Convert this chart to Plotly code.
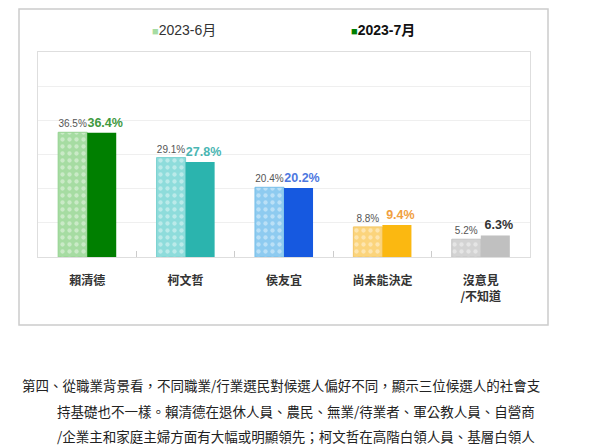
import plotly.graph_objects as go

categories = ["賴清德", "柯文哲", "侯友宜", "尚未能決定", "沒意見<br>/不知道"]
june_values = [36.5, 29.1, 20.4, 8.8, 5.2]
july_values = [36.4, 27.8, 20.2, 9.4, 6.3]
series_names = ["2023-6月", "2023-7月"]

june_colors = ["#a6dca2", "#8edcdb", "#8ecbf0", "#fbd47c", "#d3d3d3"]
june_edges = ["#94d28f", "#7ad2d0", "#78bfe8", "#f3c666", "#c4c4c4"]
july_colors = ["#007f00", "#2bb4ae", "#1659e0", "#fbb811", "#c0c0c0"]
july_label_colors = ["#3f9a3f", "#4ab6b3", "#4d78df", "#f0a040", "#333333"]

paragraph = [
    "第四、從職業背景看，不同職業/行業選民對候選人偏好不同，顯示三位候選人的社會支",
    "持基礎也不一樣。賴清德在退休人員、農民、無業/待業者、軍公教人員、自營商",
    "/企業主和家庭主婦方面有大幅或明顯領先；柯文哲在高階白領人員、基層白領人",
]

# page has an 8px body margin; figure coordinates = screen pixels - 8
OFF = 8
W, H = 600 - OFF, 445 - OFF
L, R, T, B = 38 - OFF, 600 - 530, 52 - OFF, 445 - 257
pw, ph = W - L - R, H - T - B


def px_x(px):
    return (px - OFF - L) / pw


def px_y(py):
    return (H - B - (py - OFF)) / ph


cjk = "Noto Sans CJK TC"
num_font = "Liberation Sans, Arial"

fig = go.Figure()
fig.add_trace(go.Bar(
    x=categories, y=june_values, name=series_names[0],
    marker=dict(color="#cccccc", line=dict(color=june_edges, width=1),
                pattern=dict(shape=".", fillmode="replace", bgcolor=june_colors,
                             fgcolor="#ffffff", fgopacity=0.4, size=7, solidity=0.3)),
    text=[f"{v:.1f}%" for v in june_values], textposition="outside",
    textfont=dict(family=num_font, size=10, color="#555555"),
    constraintext="none", cliponaxis=False, showlegend=False,
))
fig.add_trace(go.Bar(
    x=categories, y=july_values, name=series_names[1],
    marker=dict(color=july_colors, line=dict(width=0)),
    text=[f"\u00a0\u00a0<b>{v:.1f}%</b>" for v in july_values], textposition="outside",
    textfont=dict(family=num_font, size=12.5, color=july_label_colors),
    constraintext="none", cliponaxis=False, showlegend=False,
))

annotations = [
    dict(xref="paper", yref="paper", x=px_x(150), y=px_y(30), xanchor="left", yanchor="middle",
         showarrow=False,
         text="<span style='color:#a6dca2;font-size:11px'>■</span>" + series_names[0],
         font=dict(family=num_font + ", " + cjk, size=14, color="#333333")),
    dict(xref="paper", yref="paper", x=px_x(349), y=px_y(30), xanchor="left", yanchor="middle",
         showarrow=False,
         text="<span style='color:#007f00;font-size:11px'>■</span><b>" + series_names[1] + "</b>",
         font=dict(family=num_font + ", " + cjk, size=14, color="#111111")),
]
para_pos = [(20, 385), (55, 411), (55, 436)]
for line, (lx, ly) in zip(paragraph, para_pos):
    annotations.append(dict(xref="paper", yref="paper", x=px_x(lx), y=px_y(ly),
                            xanchor="left", yanchor="middle", showarrow=False, text=line,
                            font=dict(family=cjk, size=13.5, color="#222222")))

shapes = [
    dict(type="rect", xref="paper", yref="paper", x0=px_x(19), x1=px_x(548),
         y0=px_y(325), y1=px_y(9), line=dict(color="#cccccc", width=1.5), layer="below"),
]

fig.update_layout(
    width=W, height=H, margin=dict(l=L, r=R, t=T, b=B),
    paper_bgcolor="white", plot_bgcolor="white",
    barmode="group", bargap=0.41, bargroupgap=0,
    annotations=annotations, shapes=shapes,
    font=dict(family=cjk),
)
fig.update_xaxes(
    showline=True, mirror=True, linecolor="#dedede", linewidth=1,
    ticks="inside", tickson="boundaries", ticklen=6, tickcolor="#cccccc",
    tickfont=dict(family=cjk, size=12, color="#333333", weight="bold"),
    ticklabelstandoff=13, showgrid=False,
)
fig.update_yaxes(
    range=[0, 60], dtick=10, showticklabels=False, showgrid=True, gridcolor="#efefef",
    showline=True, mirror=True, linecolor="#dedede", zeroline=False,
)

fig.write_html("out.html")
